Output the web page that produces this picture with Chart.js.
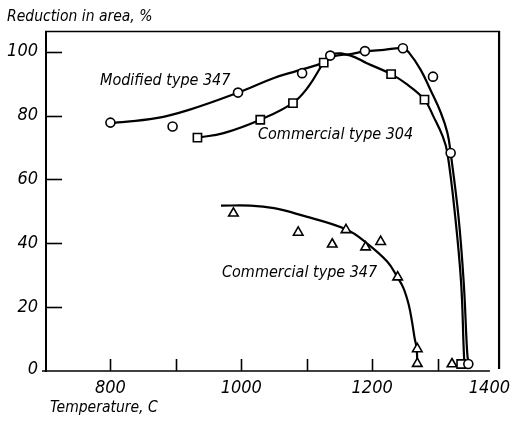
<!DOCTYPE html>
<html>
<head>
<meta charset="utf-8">
<script src="https://cdn.jsdelivr.net/npm/chart.js@4/dist/chart.umd.min.js"></script>
<style>
html,body{margin:0;padding:0;background:#fff;}
#c{display:block;}
</style>
</head>
<body>
<canvas id="c" width="512" height="421"></canvas>
<script>
// ---- Data ----
// Modified type 347 (circles)
const mod347Temp = [800, 895, 995, 1093, 1136, 1189, 1247, 1293, 1320, 1347];
const mod347RA   = [77.8, 76.6, 87.2, 93.3, 98.8, 100.2, 101.1, 92.2, 68.3, 2.2];
const mod347CurveTemp = [800, 870, 920, 995, 1050, 1085, 1126, 1140, 1167, 1189, 1218, 1247, 1256, 1274, 1289, 1305, 1315, 1320, 1332, 1340, 1345, 1347];
const mod347CurveRA   = [77.6, 79.2, 81.8, 87.2, 91.8, 94.0, 96.6, 98.5, 99.3, 100.1, 100.6, 101.1, 99.8, 94.4, 88.1, 80.9, 74.6, 68.3, 48.3, 27.6, 6.6, 2.2];

// Commercial type 304 (squares)
const c304Temp = [933, 1029, 1079, 1126, 1229, 1280, 1336];
const c304RA   = [73.1, 78.7, 83.9, 96.6, 93.0, 85.0, 2.2];
const c304CurveTemp = [933, 973, 1029, 1079, 1103, 1126, 1139, 1167, 1192, 1229, 1254, 1280, 1294, 1308, 1315, 1327, 1336, 1340, 1341];
const c304CurveRA   = [73.1, 74.5, 78.7, 84.0, 89.2, 96.6, 99.3, 98.8, 96.4, 93.0, 89.7, 85.0, 79.6, 73.4, 68.3, 48.3, 27.6, 6.6, 2.2];

// Commercial type 347 (triangles)
const c347Temp = [988, 1087, 1139, 1160, 1190, 1213, 1239, 1269, 1269, 1322];
const c347RA   = [49.4, 43.4, 39.7, 44.2, 38.8, 40.5, 29.4, 6.9, 2.3, 2.2];
const c347CurveTemp = [969, 1014, 1050, 1090, 1160, 1192, 1223, 1238, 1248, 1256, 1261, 1265, 1268, 1269];
const c347CurveRA   = [51.8, 51.8, 51.0, 48.9, 44.4, 40.0, 34.3, 29.6, 25.9, 20.7, 15.4, 10.2, 7.1, 2.3];

// Ticks and labels
const xMajorTicks = [800, 1000, 1200, 1400];
const xMinorTicks = [800, 900, 1000, 1100, 1200, 1300];
const yTicks = [0, 20, 40, 60, 80, 100];
const yTickMarks = [20, 40, 60, 80, 100];
const yAxisTitle = "Reduction in area, %";
const xAxisTitle = "Temperature, C";
const seriesLabels = ["Modified type 347", "Commercial type 304", "Commercial type 347"];

// ---- Helpers ----
function pts(xs, ys){ return xs.map((x,i)=>({x:x, y:ys[i]})); }
const FONT = "'Liberation Sans Narrow','DejaVu Sans Condensed','Liberation Sans',sans-serif";

const markerBase = {
  showLine: false,
  pointBackgroundColor: '#fff',
  pointBorderColor: '#000',
  pointBorderWidth: 1.6,
  borderColor: '#000',
  clip: false
};
const curveBase = {
  borderColor: '#000',
  borderWidth: 2.2,
  pointRadius: 0,
  fill: false,
  cubicInterpolationMode: 'default',
  tension: 0.4,
  clip: false
};

const framePlugin = {
  id: 'frame',
  beforeDatasetsDraw(chart){
    const ctx = chart.ctx;
    const xs = chart.scales.x, ys = chart.scales.y;
    const ca = chart.chartArea;
    const x0 = xs.getPixelForValue(700);
    const yb = ys.getPixelForValue(0);
    const yt = ca.top;
    const xr = xs.getPixelForValue(1394);
    ctx.save();
    ctx.strokeStyle = '#000';
    ctx.lineCap = 'butt';
    ctx.lineWidth = 2;
    ctx.beginPath(); ctx.moveTo(x0+1, yt); ctx.lineTo(x0+1, yb+1); ctx.stroke();
    ctx.lineWidth = 1.5;
    ctx.beginPath(); ctx.moveTo(x0, yt+0.5); ctx.lineTo(xr+1, yt+0.5); ctx.stroke();
    ctx.lineWidth = 2.2;
    ctx.beginPath(); ctx.moveTo(xr, yt); ctx.lineTo(xr, yb-2); ctx.stroke();
    ctx.lineWidth = 1.3;
    ctx.beginPath(); ctx.moveTo(x0-3, yb); ctx.lineTo(xs.getPixelForValue(1380), yb); ctx.stroke();
    ctx.lineWidth = 1.6;
    yTickMarks.forEach(v=>{
      const p = Math.round(ys.getPixelForValue(v))+0.5;
      ctx.beginPath(); ctx.moveTo(x0, p); ctx.lineTo(x0+17, p); ctx.stroke();
    });
    xMinorTicks.forEach(v=>{
      const p = Math.round(xs.getPixelForValue(v))+0.5;
      ctx.beginPath(); ctx.moveTo(p, yb); ctx.lineTo(p, yb-12); ctx.stroke();
    });
    ctx.restore();
  },
  afterDraw(chart){
    const ctx = chart.ctx;
    const xs = chart.scales.x, ys = chart.scales.y;
    ctx.save();
    ctx.fillStyle = '#000';
    ctx.font = "italic 18px " + FONT;
    ctx.textAlign = 'right';
    ctx.textBaseline = 'middle';
    yTicks.forEach(v=>{
      ctx.fillText(String(v), 38, ys.getPixelForValue(v) + (v===0? -2 : 0));
    });
    ctx.textAlign = 'center';
    xMajorTicks.forEach(v=>{
      let p = xs.getPixelForValue(v);
      const w = ctx.measureText(String(v)).width;
      p = Math.min(p, chart.width - w/2 - 2);
      ctx.fillText(String(v), p, 388);
    });
    ctx.font = "italic 15.5px " + FONT;
    ctx.textAlign = 'left';
    ctx.fillText(yAxisTitle, 7, 17);
    ctx.fillText(xAxisTitle, 50, 408);
    ctx.font = "italic 16px " + FONT;
    ctx.fillText(seriesLabels[0], 100, 81);
    ctx.fillText(seriesLabels[1], 258, 135);
    ctx.fillText(seriesLabels[2], 222, 273);
    ctx.restore();
  }
};

new Chart(document.getElementById('c'), {
  type: 'line',
  data: {
    datasets: [
      Object.assign({label: seriesLabels[0]+' pts', data: pts(mod347Temp, mod347RA), pointStyle: 'circle', pointRadius: 4.5}, markerBase),
      Object.assign({label: seriesLabels[1]+' pts', data: pts(c304Temp, c304RA), pointStyle: 'rect', pointRadius: 5.8}, markerBase),
      Object.assign({label: seriesLabels[2]+' pts', data: pts(c347Temp, c347RA), pointStyle: 'triangle', pointRadius: 5.5}, markerBase),
      Object.assign({label: seriesLabels[0], data: pts(mod347CurveTemp, mod347CurveRA)}, curveBase),
      Object.assign({label: seriesLabels[1], data: pts(c304CurveTemp, c304CurveRA)}, curveBase),
      Object.assign({label: seriesLabels[2], data: pts(c347CurveTemp, c347CurveRA)}, curveBase)
    ]
  },
  options: {
    responsive: false,
    animation: false,
    devicePixelRatio: 1,
    layout: { padding: { left: 45, right: 9, top: 31, bottom: 50 } },
    plugins: { legend: { display: false }, tooltip: { enabled: false } },
    scales: {
      x: { type: 'linear', min: 700, max: 1400, display: false },
      y: { type: 'linear', min: 0, max: 106.5, display: false }
    }
  },
  plugins: [framePlugin]
});
</script>
</body>
</html>
